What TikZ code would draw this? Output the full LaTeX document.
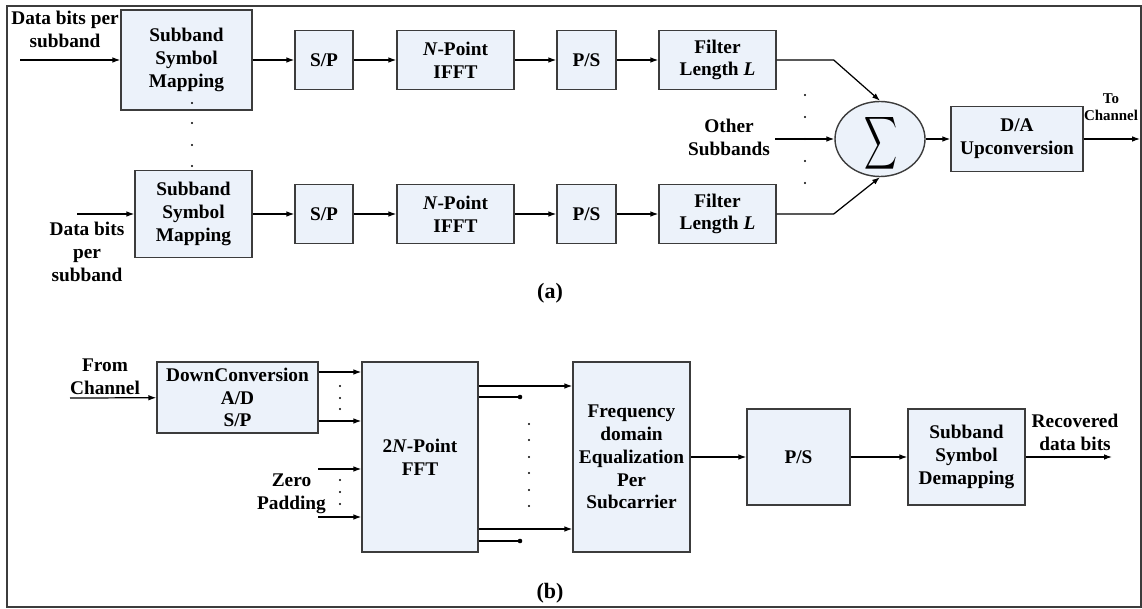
\documentclass[tikz,border=0pt]{standalone}
\usepackage{fontspec}
\setmainfont{Liberation Serif}
\usepackage{graphicx}
\definecolor{BoxFill}{RGB}{236,242,250}
\definecolor{BoxLine}{RGB}{60,60,60}
\usetikzlibrary{arrows.meta,shapes.geometric}
\tikzset{
  blk/.style={draw=BoxLine,fill=BoxFill,line width=0.8pt,align=center,inner sep=0pt},
  arr/.style={-{Latex[length=4.5pt,width=3.2pt]},line width=0.7pt},
  lbl/.style={align=center,inner sep=0pt},
  captxt/.style={font=\bfseries\fontsize{12.5}{14}\selectfont},
}

\begin{document}
\begin{tikzpicture}[x=0.2mm,y=-0.2mm,every node/.style={font=\bfseries\fontsize{11}{13}\selectfont}]
  \useasboundingbox (0,0) rectangle (1142,609);
  \draw[BoxLine,line width=0.8pt] (7,6) rectangle (1141,607);

  % (a) transmitter
  \node[blk,minimum width=2.62cm,minimum height=2.0cm] (map1) at (186.5,60) {Subband\\Symbol\\Mapping};
  \node[blk,minimum width=2.34cm,minimum height=1.74cm] (map2) at (193.5,214) {Subband\\Symbol\\Mapping};
  \foreach \r/\y in {1/60,2/214}{
    \node[blk,minimum width=1.16cm,minimum height=1.18cm] (sp\r) at (324,\y) {S/P};
    \node[blk,minimum width=2.34cm,minimum height=1.18cm] (ifft\r) at (455.5,\y) {\textit{N}-Point\\IFFT};
    \node[blk,minimum width=1.18cm,minimum height=1.18cm] (ps\r) at (586.5,\y) {P/S};
    \node[blk,minimum width=2.34cm,minimum height=1.18cm] (filt\r) at (717.5,\y) {Filter\\Length \textit{L}};
    \draw[arr] (map\r) -- (sp\r);
    \draw[arr] (sp\r) -- (ifft\r);
    \draw[arr] (ifft\r) -- (ps\r);
    \draw[arr] (ps\r) -- (filt\r);
  }
  \node[blk,ellipse,minimum width=1.8cm,minimum height=1.5cm] (sum) at (880,139) {};
  \node (sigma) at (881,143.5) {\scalebox{1.3}[2.1]{$\displaystyle\sum$}};
  \node[blk,minimum width=2.64cm,minimum height=1.3cm] (da) at (1017,139) {D/A\\Upconversion};

  \coordinate (in1) at (20,60);
  \coordinate (in2) at (77,214);
  \coordinate (oth) at (775,139);
  \coordinate (tx) at (1140,139);
  \draw[arr] (in1) -- (map1);
  \draw[arr] (in2) -- (map2);
  \draw[arr] (filt1.east) -- ++(57,0) -- (sum.north);
  \draw[arr] (filt2.east) -- ++(57,0) -- (sum.south);
  \draw[arr] (oth) -- (sum);
  \draw[arr] (sum) -- (da);
  \draw[arr] (da) -- (tx);

  \foreach \y in {103,123,145,166} \fill (192,\y) circle (0.7pt);
  \foreach \y in {95,117,139,161,183} \fill (805,\y) circle (0.7pt);

  \node[lbl] (inlbl1) at (65,29.5) {Data bits per\\subband};
  \node[lbl] (inlbl2) at (87,252) {Data bits\\per\\subband};
  \node[lbl] (othlbl) at (729,137.5) {Other\\Subbands};
  \node[lbl,font=\bfseries\fontsize{8.5}{10}\selectfont] (txlbl) at (1111,107) {To\\Channel};
  \node[captxt] (capa) at (550,293) {(a)};

  % (b) receiver
  \node[blk,minimum width=3.22cm,minimum height=1.42cm] (dc) at (237.5,397.5) {DownConversion\\A/D\\S/P};
  \node[blk,minimum width=2.32cm,minimum height=3.8cm] (fft) at (420,457) {2\textit{N}-Point\\FFT};
  \node[blk,minimum width=2.34cm,minimum height=3.8cm] (fde) at (631.5,457) {Frequency\\domain\\Equalization\\Per\\Subcarrier};
  \node[blk,minimum width=2.06cm,minimum height=1.92cm] (ps3) at (798.5,457) {P/S};
  \node[blk,minimum width=2.34cm,minimum height=1.92cm] (dem) at (966.5,457) {Subband\\Symbol\\Demapping};

  \coordinate (rx) at (70,398);
  \coordinate (zp1) at (318,469);
  \coordinate (zp2) at (318,517);
  \coordinate (out) at (1112,457);
  \draw[arr] (rx) -- (dc);
  \foreach \y in {372,421} \draw[arr] (dc.east |- 0,\y) -- (fft.west |- 0,\y);
  \draw[arr] (zp1) -- (fft.west |- zp1);
  \draw[arr] (zp2) -- (fft.west |- zp2);
  \foreach \y in {386,529} \draw[arr] (fft.east |- 0,\y) -- (fde.west |- 0,\y);
  \foreach \y in {397,541}{
    \draw[line width=0.7pt] (fft.east |- 0,\y) -- (520,\y);
    \fill (520,\y) circle (1.3pt);
  }
  \draw[arr] (fde) -- (ps3);
  \draw[arr] (ps3) -- (dem);
  \draw[arr] (dem) -- (out);

  \foreach \y in {386,398,409,480,492,504} \fill (340,\y) circle (0.7pt);
  \foreach \y in {424,440,457,473,490,506} \fill (529,\y) circle (0.7pt);

  \node[lbl] (rxlbl) at (105,376.5) {From\\Channel};
  \node[lbl] (zplbl) at (291.5,493.5) {Zero\\Padding};
  \node[lbl] (outlbl) at (1075,432.5) {Recovered\\data bits};
  \node[captxt] (capb) at (550,593) {(b)};
\end{tikzpicture}
\end{document}
